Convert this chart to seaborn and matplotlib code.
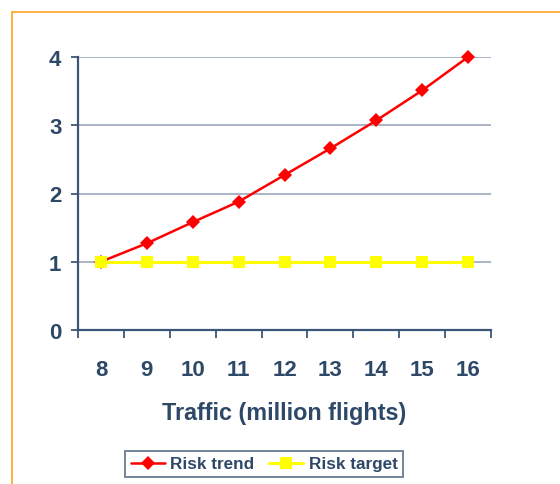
import numpy as np
import matplotlib
matplotlib.use("Agg")
import matplotlib.pyplot as plt
import seaborn as sns
from matplotlib.lines import Line2D
from matplotlib.ticker import FixedLocator, NullFormatter

# =====================================================
# Data
# =====================================================
traffic = [8, 9, 10, 11, 12, 13, 14, 15, 16]
risk_trend = [1.0, 1.27, 1.58, 1.88, 2.27, 2.66, 3.07, 3.51, 4.0]
risk_target = [1, 1, 1, 1, 1, 1, 1, 1, 1]
y_ticks = [0, 1, 2, 3, 4]

TEXT = "#2E4868"
SPINE = "#3D5677"
GRID = "#93A1B5"

sns.set_style("white")
plt.rcParams['font.family'] = ['Liberation Sans', 'DejaVu Sans']

fig = plt.figure(figsize=(5.6, 4.85), dpi=100)
ax = fig.add_axes([78 / 560, 1 - 331 / 485, (491 - 78) / 560, (331 - 58) / 485])

# red first, yellow on top (the squares cover the first diamond)
sns.lineplot(x=traffic, y=risk_trend, ax=ax, color="#FF0000", linewidth=1.8,
             marker="D", markersize=7, markeredgewidth=0, label="Risk trend",
             clip_on=False, zorder=3)
sns.lineplot(x=traffic, y=risk_target, ax=ax, color="#FFFF00", linewidth=2.2,
             marker="s", markersize=8.5, markeredgewidth=0, label="Risk target",
             clip_on=False, zorder=4)

# axes limits & ticks
ax.set_xlim(traffic[0] - 0.5, traffic[-1] + 0.5)
ax.set_ylim(y_ticks[0], y_ticks[-1])
ax.set_yticks(y_ticks)
ax.set_yticklabels([str(v) for v in y_ticks])

# boundaries get tick marks, centers get the labels
bounds = [t - 0.5 for t in traffic] + [traffic[-1] + 0.5]
ax.xaxis.set_major_locator(FixedLocator(bounds))
ax.xaxis.set_major_formatter(NullFormatter())
ax.xaxis.set_minor_locator(FixedLocator(traffic))
ax.set_xticklabels([str(t) for t in traffic], minor=True)

ax.tick_params(axis="x", which="major", direction="out", length=5.5, width=1.3,
               color=SPINE, bottom=True)
ax.tick_params(axis="x", which="minor", length=0, pad=21, labelsize=16,
               labelcolor=TEXT)
ax.tick_params(axis="y", direction="out", length=5, width=1.3, color=SPINE,
               left=True, pad=7, labelsize=16, labelcolor=TEXT)
for lbl in ax.get_xticklabels(minor=True) + ax.get_yticklabels():
    lbl.set_fontweight("bold")

# gridlines only horizontal
ax.yaxis.grid(True, color=GRID, linewidth=1.1)
ax.xaxis.grid(False)
ax.set_axisbelow(True)

for side in ["top", "right"]:
    ax.spines[side].set_visible(False)
for side in ["left", "bottom"]:
    ax.spines[side].set_color(SPINE)
    ax.spines[side].set_linewidth(1.6)
    ax.spines[side].set_zorder(5)

ax.set_xlabel("Traffic (million flights)", fontsize=16.8, fontweight="bold",
              color=TEXT, labelpad=15)
ax.set_ylabel("")

handles, labels = ax.get_legend_handles_labels()
ax.get_legend().remove()
leg = fig.legend(handles, labels,
                 loc="center", bbox_to_anchor=(264 / 560, 1 - 465 / 485),
                 ncol=2, frameon=True, fancybox=False, fontsize=12.3,
                 handlelength=2.0, handletextpad=0.3, columnspacing=0.9,
                 borderpad=0.35, borderaxespad=0)
leg.get_frame().set_edgecolor("#4F6482")
leg.get_frame().set_linewidth(1.4)
for txt in leg.get_texts():
    txt.set_color(TEXT)
    txt.set_fontweight("bold")

# orange frame (top and left edge visible)
border = "#FFAA33"
fig.add_artist(Line2D([12 / 560, 1.0], [1 - 13 / 485, 1 - 13 / 485],
                      transform=fig.transFigure, color=border, linewidth=1.3))
fig.add_artist(Line2D([12 / 560, 12 / 560], [0.0, 1 - 13 / 485],
                      transform=fig.transFigure, color=border, linewidth=1.3))

fig.savefig("out.png", dpi=100)
